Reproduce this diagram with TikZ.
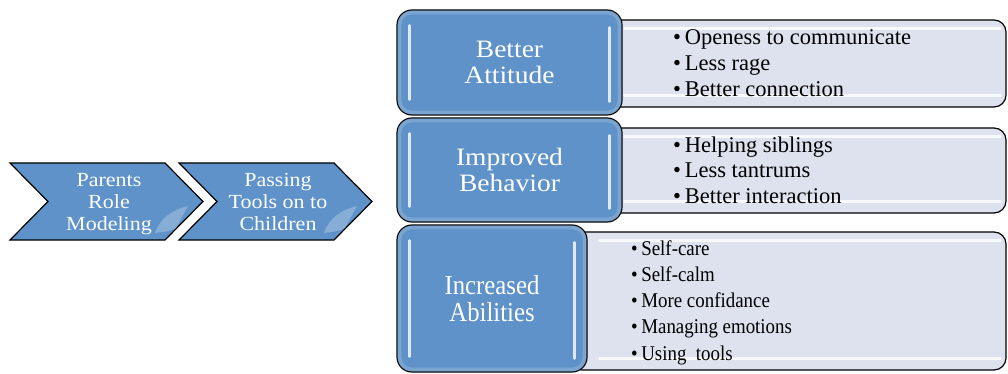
\documentclass[tikz,border=0pt]{standalone}
\usepackage{fontspec}
\setmainfont{Liberation Serif}
\newfontfamily\widefont[FakeStretch=1.1]{Liberation Serif}
\newfontfamily\condfont[FakeStretch=0.9]{Liberation Serif}
\definecolor{boxblue}{RGB}{94,146,200}
\definecolor{listgray}{RGB}{221,226,238}

\begin{document}
\begin{tikzpicture}[x=1pt, y=-1pt,
    chevron/.style={draw=black, line width=1.2pt, fill=boxblue, line join=miter},
    chevtext/.style={text=white, align=center, inner sep=0pt, font=\widefont\fontsize{20}{22}\selectfont},
    sheen/.style={fill=white, opacity=0.25},
    listbox/.style={draw=black, line width=1.2pt, fill=listgray, rounded corners=12pt, inner sep=0pt},
    headbox/.style={draw=black, line width=1.2pt, fill=boxblue, rounded corners=15pt, text=white,
      align=center, inner sep=0pt, font=\widefont\fontsize{25}{26.7}\selectfont},
    glow/.style={draw=white, opacity=0.18, line width=4pt, rounded corners=12pt},
    items/.style={anchor=west, align=left, inner sep=0pt, font=\fontsize{22.5}{25.85}\selectfont},
    shine/.style={draw=white, line width=2.5pt, line cap=round, opacity=0.8}]
  \useasboundingbox (0,0) rectangle (1008,374);

  % the two steps
  \draw[chevron] (10,163) -- (165,163) -- (203,201.5) -- (165,240) -- (10,240) -- (48,201.5) -- cycle;
  \fill[sheen] (155,233) .. controls (160,218) and (172,210) .. (188,206) -- (176,228) .. controls (170,231) .. (155,233);
  \node[chevtext] (parents) at (109,204) {Parents\\Role\\Modeling};
  \begin{scope}[shift={(169,0)}]
    \draw[chevron] (10,163) -- (165,163) -- (203,201.5) -- (165,240) -- (10,240) -- (48,201.5) -- cycle;
    \fill[sheen] (155,233) .. controls (160,218) and (172,210) .. (188,206) -- (176,228) .. controls (170,231) .. (155,233);
    \node[chevtext] (passing) at (109,201.8) {Passing\\Tools on to\\Children};
  \end{scope}

  % result lists
  \node[listbox, minimum width=411pt, minimum height=87pt] (attlist) at (800.5,63.5) {};
  \node[listbox, minimum width=411pt, minimum height=85pt] (behlist) at (800.5,170.5) {};
  \node[listbox, minimum width=436pt, minimum height=138pt] (ablist) at (788,301) {};
  \foreach \g in {attlist, behlist, ablist} {
    \draw[shine] ([xshift=30pt, yshift=-9pt]\g.north west) -- ([xshift=-6pt, yshift=-9pt]\g.north east);
    \draw[shine] ([xshift=30pt, yshift=12pt]\g.south west) -- ([xshift=-6pt, yshift=12pt]\g.south east);
  }

  % outcome headings
  \node[headbox, minimum width=225pt, minimum height=105pt] (attitude) at (509.5,62.5) {Better\\Attitude};
  \node[headbox, minimum width=225pt, minimum height=104pt] (behavior) at (509.5,170) {Improved\\Behavior};
  \node[headbox, minimum width=190pt, minimum height=147pt, font=\condfont\fontsize{27.5}{26.7}\selectfont]
    (abilities) at (492,298.5) {Increased\\Abilities};
  \foreach \b in {attitude, behavior, abilities} {
    \draw[glow] ([shift={(3pt,-3pt)}]\b.north west) rectangle ([shift={(-3pt,3pt)}]\b.south east);
    \draw[shine] ([xshift=13pt, yshift=-16pt]\b.north west) -- ([xshift=13pt, yshift=16pt]\b.south west);
    \draw[shine] ([xshift=-13pt, yshift=-18pt]\b.north east) -- ([xshift=-13pt, yshift=14pt]\b.south east);
  }

  \node[items] (attitems) at (673,63.3)
    {\textbullet\,Openess to communicate\\\textbullet\,Less rage\\\textbullet\,Better connection};
  \node[items] (behitems) at (673,170.3)
    {\textbullet\,Helping siblings\\\textbullet\,Less tantrums\\\textbullet\,Better interaction};
  \node[items, font=\condfont\fontsize{21}{26.25}\selectfont] (abitems) at (631,302.5)
    {\textbullet\,Self-care\\\textbullet\,Self-calm\\\textbullet\,More confidance\\\textbullet\,Managing emotions\\\textbullet\,Using\ \ tools};
\end{tikzpicture}
\end{document}
